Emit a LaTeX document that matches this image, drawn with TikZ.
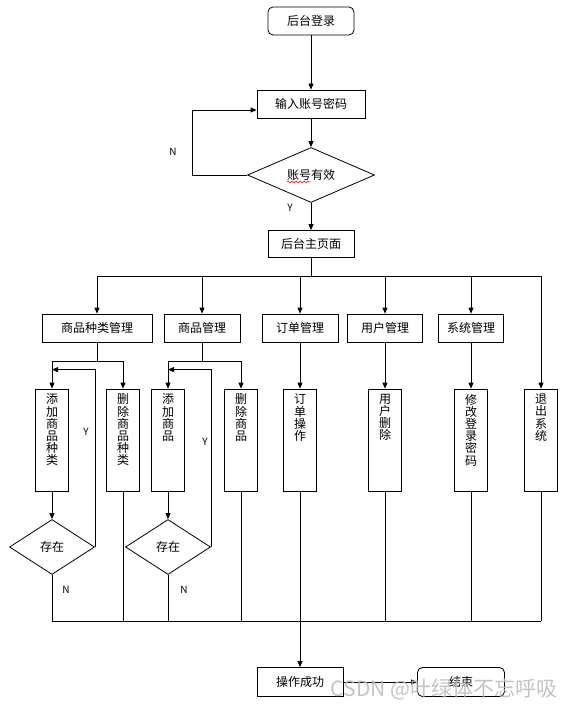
\documentclass[tikz,border=0pt]{standalone}
\usepackage{fontspec}
\usepackage{tikz}
\usetikzlibrary{shapes,calc,arrows.meta,decorations.pathmorphing}
\newfontfamily\cjk{Noto Sans CJK SC}

\begin{document}
\begin{tikzpicture}[x=1pt,y=-1pt,line width=0.8pt,
  every node/.style={font=\fontsize{12}{13}\cjk},
  box/.style={draw,rectangle,minimum height=28pt,inner sep=2pt},
  rbox/.style={box,rounded corners=5pt},
  dia/.style={draw,diamond,aspect=2.3,inner sep=0pt},
  sub/.style={draw,rectangle,minimum width=33pt,minimum height=102pt,inner sep=0pt},
  vtxt/.style={anchor=north,align=center,inner sep=0pt,font=\fontsize{12}{12.2}\cjk},
  lbl/.style={font=\fontsize{10}{11}\cjk},
  arr/.style={-{Triangle[length=6pt,width=5pt]}}]
\useasboundingbox (0,0) rectangle (566,708);
\node[rbox,minimum width=86pt] (login) at (311,21) {后台登录};
\node[box,minimum width=108pt] (input) at (311,104) {输入账号密码};
\node[dia,minimum width=127pt,minimum height=55pt] (valid) at (311,175) {账号有效};
\draw[red,line width=0.5pt,decorate,decoration={snake,segment length=4pt,amplitude=1pt}] ($(valid.center)+(-24,7)$) -- ($(valid.center)+(0,7)$);
\node[box,minimum width=86pt,minimum height=27pt] (home) at (311,244) {后台主页面};
\draw[arr] (login) -- (input);
\draw[arr] (input) -- (valid);
\draw[arr] (valid.west) -- ++(-55,0) |- ($(input.west)+(0,6)$);
\node[lbl] (no0) at (173,152) {N};
\draw[arr] (valid) -- (home);
\node[lbl] (yes0) at (290,208) {Y};
\node[box,minimum width=110pt] (catm) at (97,328) {商品种类管理};
\node[box,minimum width=76pt] (goodm) at (202,328) {商品管理};
\node[box,minimum width=76pt] (orderm) at (300,328) {订单管理};
\node[box,minimum width=75pt] (userm) at (385,328) {用户管理};
\node[box,minimum width=65pt] (sysm) at (471,328) {系统管理};
\node[sub] (addcat) at (52,440) {};
\node[sub] (delcat) at (123,440) {};
\node[sub] (addgood) at (168,440) {};
\node[sub] (delgood) at (241,440) {};
\node[sub] (orderop) at (300,440) {};
\node[sub] (userdel) at (385,440) {};
\node[sub] (chpwd) at (471,440) {};
\node[sub] (quit) at (541,440) {};
\node[vtxt] (t1) at ($(addcat.north)+(0,5)$) {添\\加\\商\\品\\种\\类};
\node[vtxt] (t2) at ($(delcat.north)+(0,5)$) {删\\除\\商\\品\\种\\类};
\node[vtxt] (t3) at ($(addgood.north)+(0,5)$) {添\\加\\商\\品};
\node[vtxt] (t4) at ($(delgood.north)+(0,5)$) {删\\除\\商\\品};
\node[vtxt] (t5) at ($(orderop.north)+(0,5)$) {订\\单\\操\\作};
\node[vtxt] (t6) at ($(userdel.north)+(0,5)$) {用\\户\\删\\除};
\node[vtxt] (t7) at ($(chpwd.north)+(0,5)$) {修\\改\\登\\录\\密\\码};
\node[vtxt] (t8) at ($(quit.north)+(0,5)$) {退\\出\\系\\统};
\coordinate (bus) at (311,276);
\draw (home) -- (bus);
\draw (catm.north |- bus) -- (quit.north |- bus);
\foreach \n in {catm,goodm,orderm,userm,sysm,quit} {
  \draw[arr] (\n.north |- bus) -- (\n);
}
\draw[arr] (orderm) -- (orderop);
\draw[arr] (userm) -- (userdel);
\draw[arr] (sysm) -- (chpwd);
\coordinate (fork1) at (97,361);
\coordinate (fork2) at (202,361);
\draw (catm) -- (fork1);
\draw[arr] (fork1) -| (addcat);
\draw[arr] (fork1) -| (delcat);
\draw (goodm) -- (fork2);
\draw[arr] (fork2) -| (addgood);
\draw[arr] (fork2) -| (delgood);
\node[dia,minimum width=85pt,minimum height=55pt] (ex1) at (52,547) {存在};
\node[dia,minimum width=85pt,minimum height=55pt] (ex2) at (168,547) {存在};
\draw[arr] (addcat) -- (ex1);
\draw[arr] (addgood) -- (ex2);
\draw[arr] (ex1.east) |- ($(addcat.north)+(0,-19)$);
\draw[arr] (ex2.east) |- ($(addgood.north)+(0,-19)$);
\node[lbl] (yes1) at (86,432) {Y};
\node[lbl] (yes2) at (205,442) {Y};
\node[lbl] (no1) at (66,590) {N};
\node[lbl] (no2) at (184,590) {N};
\coordinate (bot) at (300,621);
\foreach \n in {ex1,delcat,ex2,delgood,orderop,userdel,chpwd,quit} {
  \draw (\n.south) -- (\n.south |- bot);
}
\draw (ex1.south |- bot) -- (quit.south |- bot);
\node[box,minimum width=86pt,minimum height=29pt] (ok) at (300,682) {操作成功};
\node[rbox,minimum width=87pt,minimum height=29pt] (end) at (461,682) {结束};
\draw[arr] (bot) -- (ok);
\draw[arr] (ok) -- (end);
\node[text=gray!55,opacity=0.85,font=\fontsize{21}{22}\cjk] (mark) at (444,689) {CSDN @叶绿体不忘呼吸};
\end{tikzpicture}
\end{document}
